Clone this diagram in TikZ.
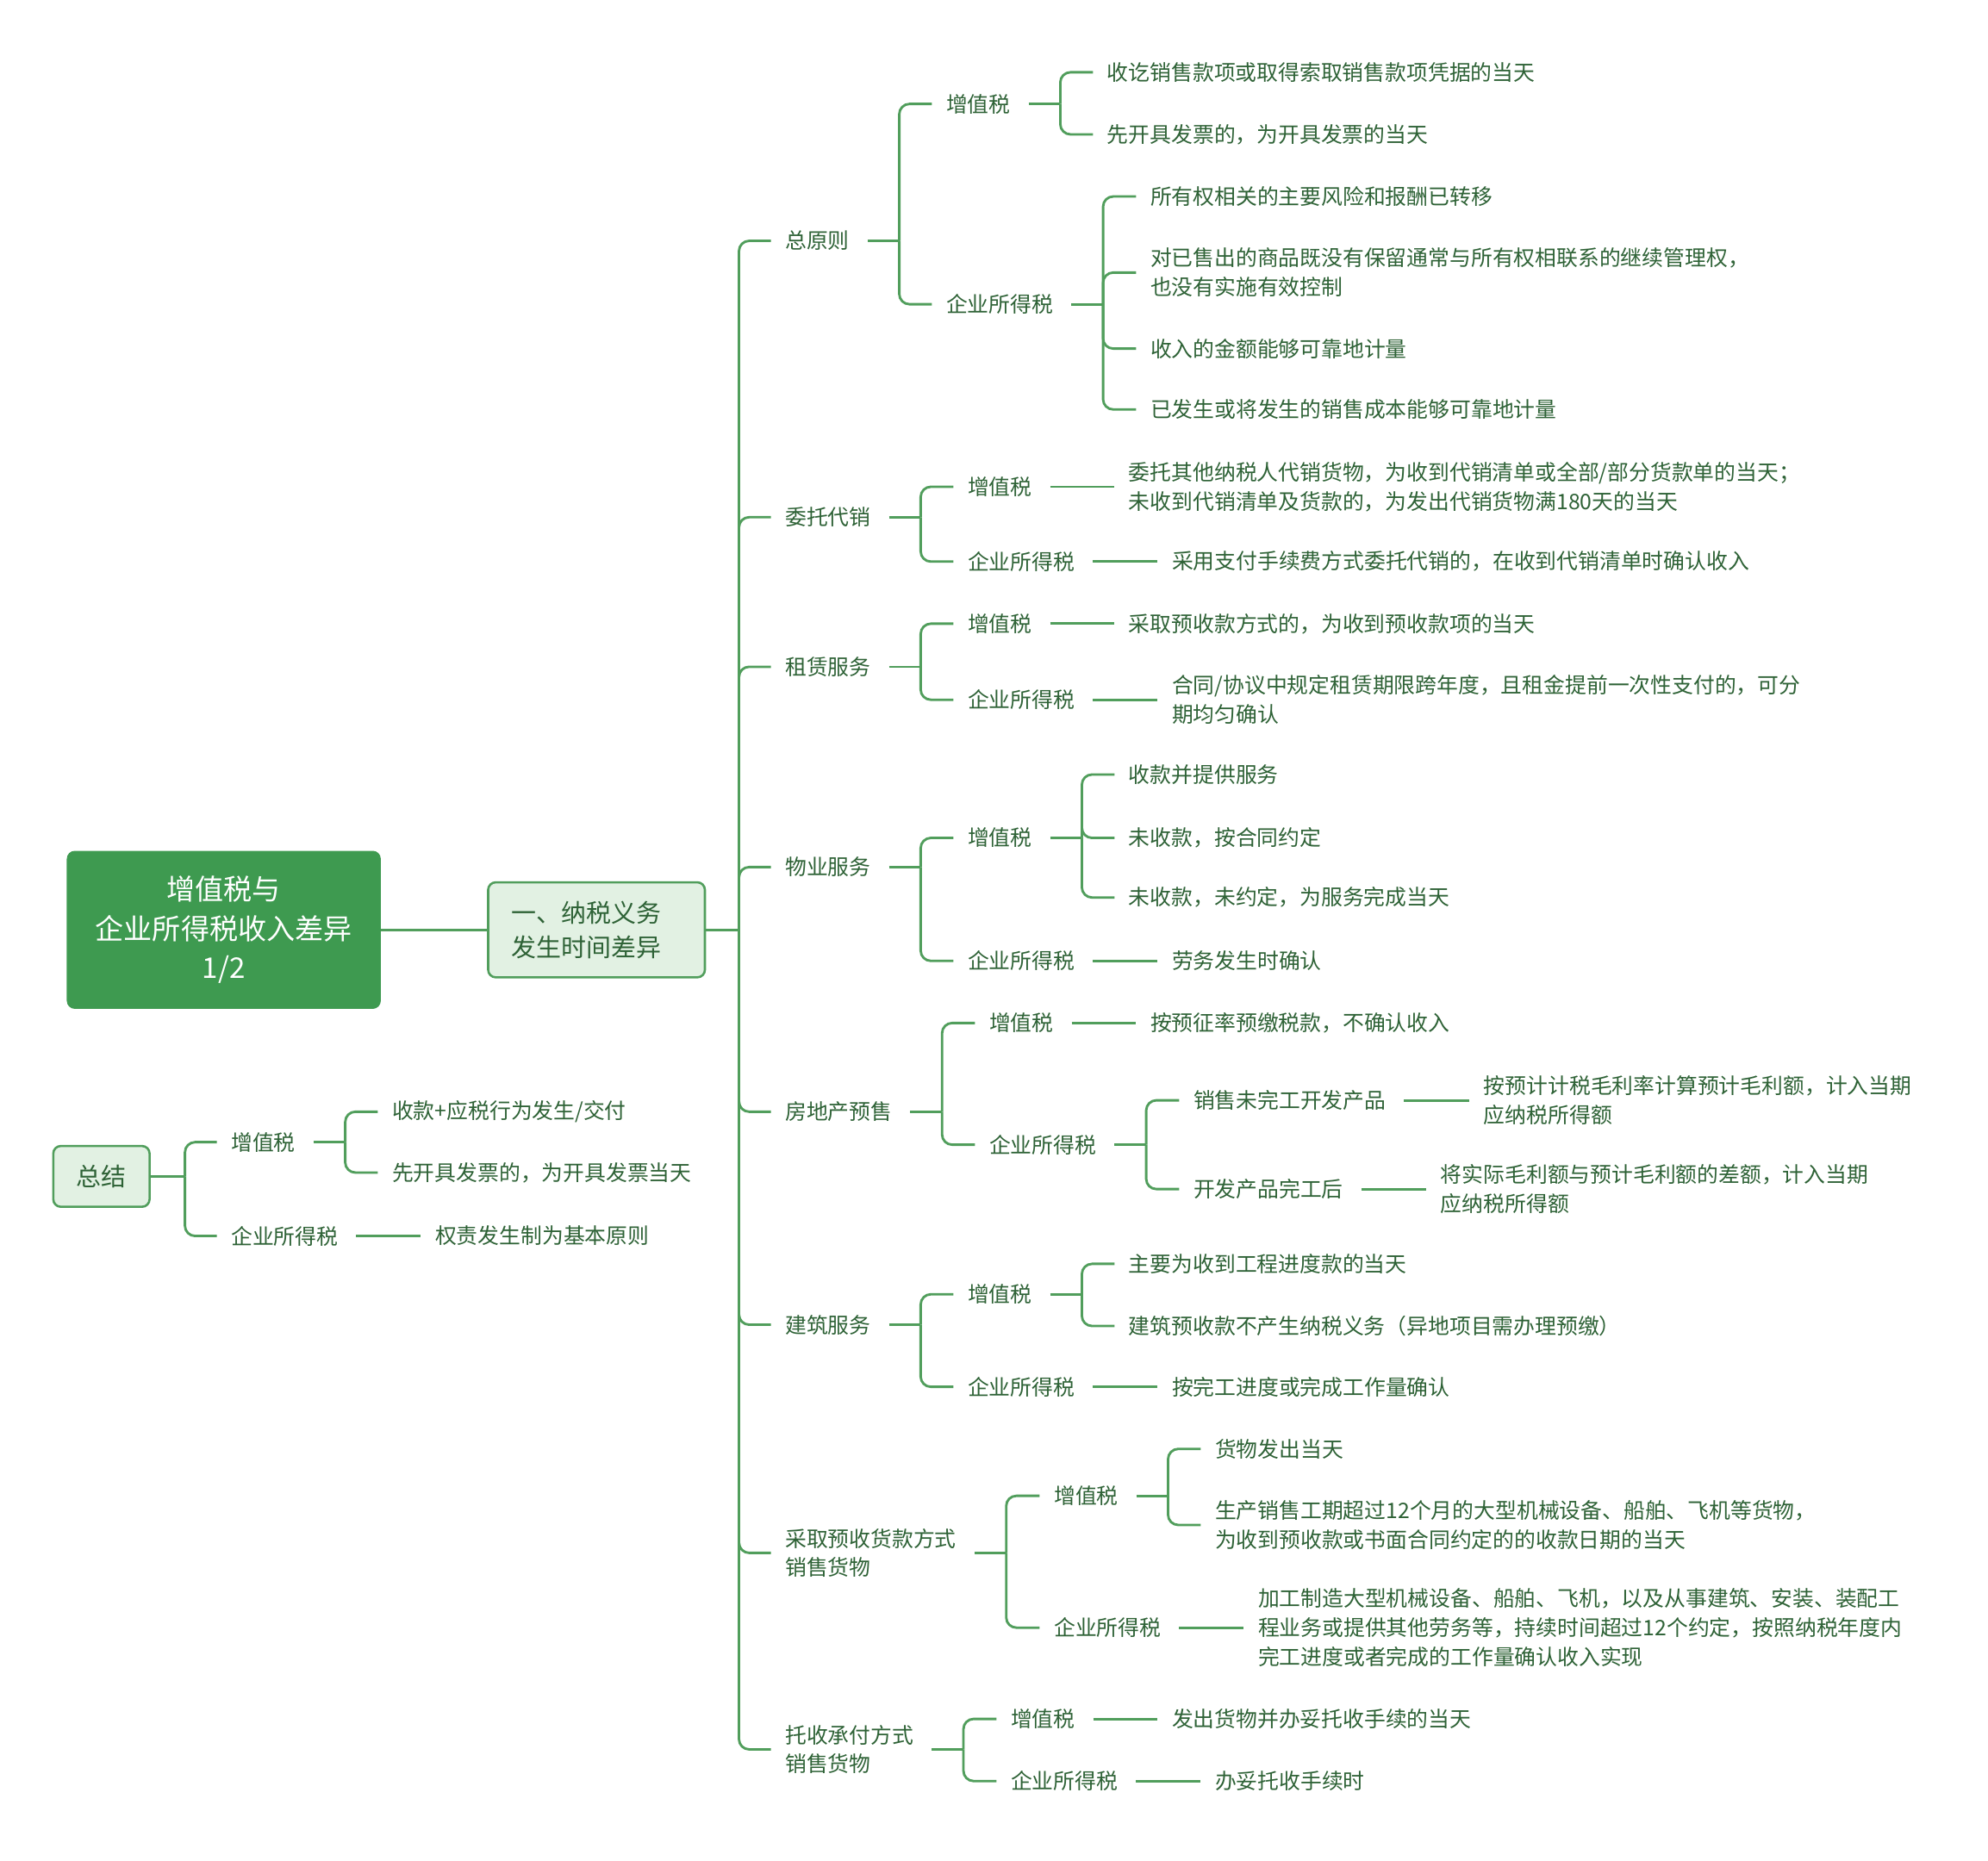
\documentclass[tikz,border=0pt]{standalone}
\usepackage{fontspec}
\setmainfont{Noto Sans CJK SC}
\usepackage{tikz}
\usetikzlibrary{calc,positioning}
\definecolor{mapgreen}{HTML}{3E9A50}
\definecolor{mapline}{HTML}{519E5C}
\definecolor{maptext}{HTML}{2E6236}
\definecolor{mapfill}{HTML}{E2F1E3}
% stub from a parent to its spine, fork from spine to a child, plain link
\newcommand{\mmstub}[1]{\coordinate (#1-j) at ([xshift=0.78cm]#1.east);
    \draw[link] ([xshift=0.28cm]#1.east) -- (#1-j);}
\newcommand{\mmfork}[2]{\draw[link] (#1-j) |- ([xshift=-0.22cm]#2.west);}
\newcommand{\mmlink}[2]{\draw[link] ([xshift=0.28cm]#1.east) -- ([xshift=-0.22cm]#2.west);}

\begin{document}
\begin{tikzpicture}[
    x=0.02cm, y=-0.02cm,
    %
    root/.style={draw=mapgreen, fill=mapgreen, rounded corners=0.12cm, text=white,
                 minimum width=4.94cm, minimum height=2.48cm, align=center,
                 font=\fontsize{12.8}{17.6}\selectfont},
    topic/.style={draw=mapline, fill=mapfill, rounded corners=0.12cm, text=maptext,
                  line width=1pt, align=left, font=\fontsize{11.2}{15.3}\selectfont},
    item/.style={anchor=west, inner sep=0pt, text=maptext, align=left,
                 font=\fontsize{9.6}{13}\selectfont},
    %
    link/.style={draw=mapline, line width=1.1pt, rounded corners=0.16cm}
    ]
    \useasboundingbox (0,0) rectangle (1568,1468);

    \node[root] (root) at (176.5,733.5) {增值税与\\企业所得税收入差异\\1/2};
    \node[topic, minimum width=3.42cm, minimum height=1.5cm] (diff) at (470.5,733.5) {一、纳税义务\hspace*{0.32cm}\\发生时间差异};
    \draw[link] (root) -- (diff);
    \coordinate (diff-j) at ([xshift=0.52cm]diff.east);
    \draw[link] (diff.east) -- (diff-j);
    %
    \node[item] (yz) at (619,190) {总原则};
    \node[item] (wt) at (619,408) {委托代销};
    \node[item] (zl) at (619,526) {租赁服务};
    \node[item] (wy) at (619,684) {物业服务};
    \node[item] (fd) at (619,877) {房地产预售};
    \node[item] (jz) at (619,1045) {建筑服务};
    \node[item] (ys) at (619,1225) {采取预收货款方式\\销售货物};
    \node[item] (ts) at (619,1380) {托收承付方式\\销售货物};
    \foreach \k in {yz,wt,zl,wy,fd,jz,ys,ts}
        \mmfork{diff}{\k};
    %
    % 总原则
    \node[item] (yz-v) at (746,82) {增值税};
    \node[item] (yz-c) at (746,240) {企业所得税};
    \node[item] (yz-v1) at (873,57) {收讫销售款项或取得索取销售款项凭据的当天};
    \node[item] (yz-v2) at (873,106) {先开具发票的，为开具发票的当天};
    \node[item] (yz-c1) at (907,155) {所有权相关的主要风险和报酬已转移};
    \node[item] (yz-c2) at (907,215) {对已售出的商品既没有保留通常与所有权相联系的继续管理权，\\也没有实施有效控制};
    \node[item] (yz-c3) at (907,275) {收入的金额能够可靠地计量};
    \node[item] (yz-c4) at (907,323) {已发生或将发生的销售成本能够可靠地计量};
    \mmstub{yz}
    \mmfork{yz}{yz-v} \mmfork{yz}{yz-c}
    \mmstub{yz-v}
    \mmfork{yz-v}{yz-v1} \mmfork{yz-v}{yz-v2}
    \mmstub{yz-c}
    \foreach \k in {1,2,3,4}
        \mmfork{yz-c}{yz-c\k};
    %
    % 委托代销
    \node[item] (wt-v) at (763,384) {增值税};
    \node[item] (wt-c) at (763,443) {企业所得税};
    \node[item] (wt-v1) at (890,384) {委托其他纳税人代销货物，为收到代销清单或全部/部分货款单的当天；\\未收到代销清单及货款的，为发出代销货物满180天的当天};
    \node[item] (wt-c1) at (924,443) {采用支付手续费方式委托代销的，在收到代销清单时确认收入};
    \mmstub{wt}
    \mmfork{wt}{wt-v} \mmfork{wt}{wt-c}
    \mmlink{wt-v}{wt-v1} \mmlink{wt-c}{wt-c1}
    %
    % 租赁服务
    \node[item] (zl-v) at (763,492) {增值税};
    \node[item] (zl-c) at (763,552) {企业所得税};
    \node[item] (zl-v1) at (890,492) {采取预收款方式的，为收到预收款项的当天};
    \node[item] (zl-c1) at (924,552) {合同/协议中规定租赁期限跨年度，且租金提前一次性支付的，可分\\期均匀确认};
    \mmstub{zl}
    \mmfork{zl}{zl-v} \mmfork{zl}{zl-c}
    \mmlink{zl-v}{zl-v1} \mmlink{zl-c}{zl-c1}
    %
    % 物业服务
    \node[item] (wy-v) at (763,661) {增值税};
    \node[item] (wy-c) at (763,758) {企业所得税};
    \node[item] (wy-v1) at (890,611) {收款并提供服务};
    \node[item] (wy-v2) at (890,661) {未收款，按合同约定};
    \node[item] (wy-v3) at (890,708) {未收款，未约定，为服务完成当天};
    \node[item] (wy-c1) at (924,758) {劳务发生时确认};
    \mmstub{wy}
    \mmfork{wy}{wy-v} \mmfork{wy}{wy-c}
    \mmstub{wy-v}
    \foreach \k in {1,2,3}
        \mmfork{wy-v}{wy-v\k};
    \mmlink{wy-c}{wy-c1}
    %
    % 房地产预售
    \node[item] (fd-v) at (780,807) {增值税};
    \node[item] (fd-c) at (780,903) {企业所得税};
    \node[item] (fd-v1) at (907,807) {按预征率预缴税款，不确认收入};
    \node[item] (fd-c1) at (941,868) {销售未完工开发产品};
    \node[item] (fd-c2) at (941,938) {开发产品完工后};
    \node[item] (fd-c1a) at (1170,868) {按预计计税毛利率计算预计毛利额，计入当期\\应纳税所得额};
    \node[item] (fd-c2a) at (1136,938) {将实际毛利额与预计毛利额的差额，计入当期\\应纳税所得额};
    \mmstub{fd}
    \mmfork{fd}{fd-v} \mmfork{fd}{fd-c}
    \mmlink{fd-v}{fd-v1}
    \mmstub{fd-c}
    \mmfork{fd-c}{fd-c1} \mmfork{fd-c}{fd-c2}
    \mmlink{fd-c1}{fd-c1a} \mmlink{fd-c2}{fd-c2a}
    %
    % 建筑服务
    \node[item] (jz-v) at (763,1021) {增值税};
    \node[item] (jz-c) at (763,1094) {企业所得税};
    \node[item] (jz-v1) at (890,997) {主要为收到工程进度款的当天};
    \node[item] (jz-v2) at (890,1046) {建筑预收款不产生纳税义务（异地项目需办理预缴）};
    \node[item] (jz-c1) at (924,1094) {按完工进度或完成工作量确认};
    \mmstub{jz}
    \mmfork{jz}{jz-v} \mmfork{jz}{jz-c}
    \mmstub{jz-v}
    \mmfork{jz-v}{jz-v1} \mmfork{jz-v}{jz-v2}
    \mmlink{jz-c}{jz-c1}
    %
    % 预收货款
    \node[item] (ys-v) at (831,1180) {增值税};
    \node[item] (ys-c) at (831,1284) {企业所得税};
    \node[item] (ys-v1) at (958,1143) {货物发出当天};
    \node[item] (ys-v2) at (958,1203) {生产销售工期超过12个月的大型机械设备、船舶、飞机等货物，\\为收到预收款或书面合同约定的的收款日期的当天};
    \node[item] (ys-c1) at (992,1284) {加工制造大型机械设备、船舶、飞机，以及从事建筑、安装、装配工\\程业务或提供其他劳务等，持续时间超过12个约定，按照纳税年度内\\完工进度或者完成的工作量确认收入实现};
    \mmstub{ys}
    \mmfork{ys}{ys-v} \mmfork{ys}{ys-c}
    \mmstub{ys-v}
    \mmfork{ys-v}{ys-v1} \mmfork{ys-v}{ys-v2}
    \mmlink{ys-c}{ys-c1}
    %
    % 托收承付
    \node[item] (ts-v) at (797,1356) {增值税};
    \node[item] (ts-c) at (797,1405) {企业所得税};
    \node[item] (ts-v1) at (924,1356) {发出货物并办妥托收手续的当天};
    \node[item] (ts-c1) at (958,1405) {办妥托收手续时};
    \mmstub{ts}
    \mmfork{ts}{ts-v} \mmfork{ts}{ts-c}
    \mmlink{ts-v}{ts-v1} \mmlink{ts-c}{ts-c1}
    %
    % 总结
    \node[topic, minimum width=1.52cm, minimum height=0.96cm] (sum) at (80,928) {总结};
    \coordinate (sum-j) at ([xshift=0.54cm]sum.east);
    \draw[link] (sum.east) -- (sum-j);
    \node[item] (sum-v) at (182,901) {增值税};
    \node[item] (sum-c) at (182,975) {企业所得税};
    \node[item] (sum-v1) at (309,877) {收款+应税行为发生/交付};
    \node[item] (sum-v2) at (309,925) {先开具发票的，为开具发票当天};
    \node[item] (sum-c1) at (343,975) {权责发生制为基本原则};
    \mmfork{sum}{sum-v} \mmfork{sum}{sum-c}
    \mmstub{sum-v}
    \mmfork{sum-v}{sum-v1} \mmfork{sum-v}{sum-v2}
    \mmlink{sum-c}{sum-c1}
\end{tikzpicture}
\end{document}
